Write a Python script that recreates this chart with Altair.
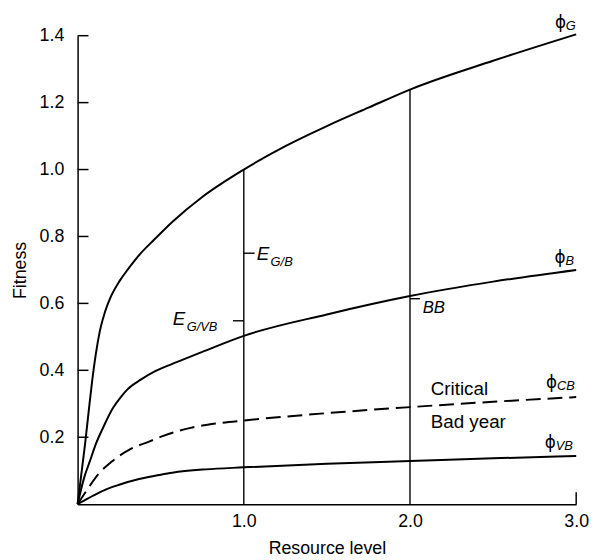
import altair as alt
import pandas as pd

# ---- curve data ----
g_x = [0, 0.02, 0.045, 0.065, 0.088, 0.11, 0.135, 0.165, 0.2, 0.254, 0.3, 0.373, 0.46, 0.571, 0.75, 1.0, 1.25, 1.5, 1.75, 2.0, 2.5, 3.0]
g_y = [0, 0.08, 0.18, 0.27, 0.37, 0.45, 0.52, 0.575, 0.62, 0.668, 0.70, 0.746, 0.79, 0.844, 0.918, 1.0, 1.07, 1.13, 1.185, 1.239, 1.325, 1.404]

b_x = [0, 0.04, 0.075, 0.11, 0.15, 0.21, 0.26, 0.3, 0.38, 0.47, 0.6, 0.75, 1.0, 1.5, 2.0, 2.5, 3.0]
b_y = [0, 0.08, 0.13, 0.18, 0.225, 0.285, 0.32, 0.343, 0.372, 0.398, 0.425, 0.455, 0.503, 0.567, 0.622, 0.665, 0.70]

cb_x = [0, 0.06, 0.125, 0.2, 0.32, 0.43, 0.52, 0.68, 0.85, 1.0, 1.5, 2.0, 2.5, 3.0]
cb_y = [0, 0.045, 0.09, 0.125, 0.165, 0.187, 0.205, 0.228, 0.242, 0.25, 0.272, 0.29, 0.306, 0.32]

vb_x = [0, 0.1, 0.175, 0.25, 0.37, 0.5, 0.57, 0.77, 1.0, 1.5, 2.0, 2.5, 3.0]
vb_y = [0, 0.027, 0.045, 0.058, 0.075, 0.088, 0.094, 0.104, 0.11, 0.121, 0.129, 0.137, 0.144]

# vertical resource-level lines
v_x = [1.0, 2.0]
v_top = [1.0, 1.239]

# small marker ticks (E_G/B, E_G/VB, BB)
m_x = [1.0, 1.0, 2.0]
m_x2 = [1.065, 0.935, 2.06]
m_y = [0.75, 0.548, 0.614]

# axis tick values
x_ticks = [1.0, 2.0, 3.0]
y_ticks = [0.2, 0.4, 0.6, 0.8, 1.0, 1.2, 1.4]

# phi labels
phi_sub = ["G", "B", "CB", "VB"]
phi_x = [2.872, 2.87, 2.819, 2.811]
phi_y = [1.416, 0.714, 0.340, 0.163]

# E labels
e_sub = ["G/B", "G/VB"]
e_x = [1.078, 0.573]
e_y = [0.73, 0.534]

# plain text labels
t_text = ["Critical", "Bad year"]
t_x = [2.125, 2.125]
t_y = [0.325, 0.229]

bb_text = ["BB"]
bb_x = [2.076]
bb_y = [0.572]

FONT = "Liberation Sans"
W, H = 505, 474.5

xs = alt.Scale(domain=[0, 3], nice=False, zero=True)
ys = alt.Scale(domain=[0, 1.4], nice=False, zero=True)

solid_df = pd.concat([
    pd.DataFrame({"x": g_x, "y": g_y, "c": "G"}),
    pd.DataFrame({"x": b_x, "y": b_y, "c": "B"}),
    pd.DataFrame({"x": vb_x, "y": vb_y, "c": "VB"}),
])
dash_df = pd.DataFrame({"x": cb_x, "y": cb_y, "c": "CB"})

xaxis = alt.Axis(values=x_ticks, format=".1f", ticks=False, grid=False,
                 domainColor="black", domainWidth=1.5, labelFont=FONT,
                 labelFontSize=18, labelColor="black", labelPadding=9,
                 labelFlush=False, title="Resource level", titleFont=FONT,
                 titleFontSize=18, titleFontWeight="normal", titleColor="black",
                 titlePadding=9)
yaxis = alt.Axis(values=y_ticks, format=".1f", ticks=False, grid=False,
                 domainColor="black", domainWidth=1.5, labelFont=FONT,
                 labelFontSize=18, labelColor="black", labelPadding=14,
                 labelFlush=False, title="Fitness", titleFont=FONT,
                 titleFontSize=18, titleFontWeight="normal", titleColor="black",
                 titlePadding=10)

solid = alt.Chart(solid_df).mark_line(color="black", strokeWidth=2, interpolate="monotone").encode(
    x=alt.X("x:Q", scale=xs, axis=xaxis),
    y=alt.Y("y:Q", scale=ys, axis=yaxis),
    detail="c:N",
)
dashed = alt.Chart(dash_df).mark_line(color="black", strokeWidth=2, strokeDash=[15, 7],
                                      interpolate="monotone").encode(
    x=alt.X("x:Q", scale=xs), y=alt.Y("y:Q", scale=ys))

vlines = alt.Chart(pd.DataFrame({"x": v_x, "y0": [0, 0], "y1": v_top})).mark_rule(
    color="black", strokeWidth=1.4).encode(
    x=alt.X("x:Q", scale=xs), y=alt.Y("y0:Q", scale=ys), y2="y1:Q")

marks = alt.Chart(pd.DataFrame({"x": m_x, "x2": m_x2, "y": m_y})).mark_rule(
    color="black", strokeWidth=1.4).encode(
    x=alt.X("x:Q", scale=xs), x2="x2:Q", y=alt.Y("y:Q", scale=ys))

yt = alt.Chart(pd.DataFrame({"y": y_ticks})).mark_rule(color="black", strokeWidth=1.5).encode(
    y=alt.Y("y:Q", scale=ys), x=alt.value(0), x2=alt.value(11))
xt = alt.Chart(pd.DataFrame({"x": [x_ticks[-1]]})).mark_rule(color="black", strokeWidth=1.5).encode(
    x=alt.X("x:Q", scale=xs), y=alt.value(H), y2=alt.value(H - 12))

phi_df = pd.DataFrame({"x": phi_x, "y": phi_y, "sub": phi_sub, "main": ["ϕ"] * 4})
phi_main = alt.Chart(phi_df).mark_text(font="DejaVu Sans", fontSize=17, align="left", baseline="alphabetic",
                                       dy=-2, color="black").encode(
    x=alt.X("x:Q", scale=xs), y=alt.Y("y:Q", scale=ys), text="main:N")
phi_s = alt.Chart(phi_df).mark_text(font=FONT, fontSize=13, fontStyle="italic", align="left",
                                    baseline="alphabetic", dx=11, color="black").encode(
    x=alt.X("x:Q", scale=xs), y=alt.Y("y:Q", scale=ys), text="sub:N")

e_df = pd.DataFrame({"x": e_x, "y": e_y, "sub": e_sub, "main": ["E"] * 2})
e_main = alt.Chart(e_df).mark_text(font=FONT, fontSize=19, fontStyle="italic", align="left",
                                   baseline="alphabetic", color="black").encode(
    x=alt.X("x:Q", scale=xs), y=alt.Y("y:Q", scale=ys), text="main:N")
e_s = alt.Chart(e_df).mark_text(font=FONT, fontSize=13, fontStyle="italic", align="left",
                                baseline="alphabetic", dx=14, dy=6, color="black").encode(
    x=alt.X("x:Q", scale=xs), y=alt.Y("y:Q", scale=ys), text="sub:N")

txt = alt.Chart(pd.DataFrame({"x": t_x, "y": t_y, "t": t_text})).mark_text(
    font=FONT, fontSize=19, align="left", baseline="alphabetic", color="black").encode(
    x=alt.X("x:Q", scale=xs), y=alt.Y("y:Q", scale=ys), text="t:N")

bb = alt.Chart(pd.DataFrame({"x": bb_x, "y": bb_y, "t": bb_text})).mark_text(
    font=FONT, fontSize=17, fontStyle="italic", align="left", baseline="alphabetic",
    color="black").encode(
    x=alt.X("x:Q", scale=xs), y=alt.Y("y:Q", scale=ys), text="t:N")

chart = alt.layer(solid, dashed, vlines, marks, yt, xt, phi_main, phi_s, e_main, e_s, txt, bb).properties(
    width=W, height=H,
    autosize=alt.AutoSizeParams(type="none"),
    padding={"left": 70.5, "top": 24.5, "right": 15, "bottom": 53},
    background="white",
).configure_view(stroke=None)

chart.save("out.html", embed_options={"renderer": "svg", "actions": False})
